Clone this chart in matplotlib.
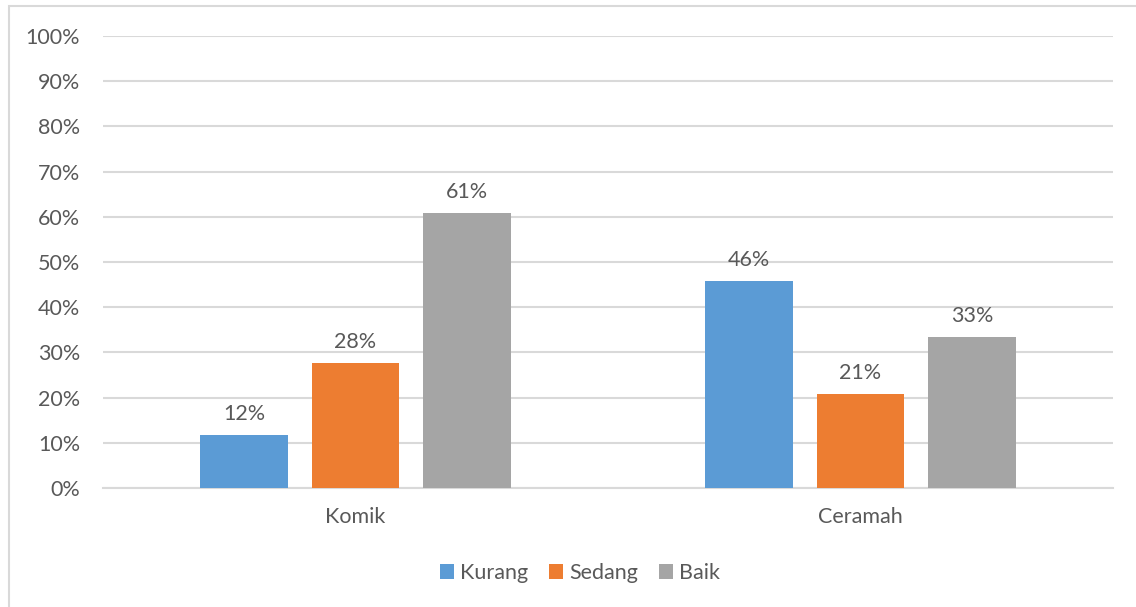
import numpy as np
import matplotlib.pyplot as plt
from matplotlib.patches import Rectangle

plt.rcParams['font.family'] = ['Lato', 'DejaVu Sans']

kategori = ["Komik", "Ceramah"]
seri = ["Kurang", "Sedang", "Baik"]
nilai = {
    "Kurang": [11.7, 45.8],
    "Sedang": [27.6, 20.8],
    "Baik": [60.8, 33.3],
}
warna = {"Kurang": "#5b9bd5", "Sedang": "#ed7d31", "Baik": "#a5a5a5"}
teks = "#595959"
garis = "#d9d9d9"
fs = 15.5

fig = plt.figure(figsize=(11.36, 6.07), dpi=100)
# bingkai luar chart
fig.patches.append(Rectangle((9 / 1136, -0.1), 1.2, 1 - 6 / 607 + 0.1,
                             transform=fig.transFigure, fill=False,
                             edgecolor=garis, linewidth=1.5))
ax = fig.add_axes([103 / 1136, 1 - 488 / 607, 1010 / 1136, 452 / 607])

x = np.arange(len(kategori))
lebar = 0.174
jarak = 0.221
for i, s in enumerate(seri):
    pos = x + (i - 1) * jarak
    bars = ax.bar(pos, nilai[s], lebar, color=warna[s], label=s, zorder=3)
    for b, v in zip(bars, nilai[s]):
        ax.annotate(f"{v:.0f}%", (b.get_x() + b.get_width() / 2, v),
                    xytext=(0, 8), textcoords="offset points",
                    ha="center", va="bottom", fontsize=fs, color=teks)

ax.set_xlim(-0.5, 1.5)
ax.set_ylim(0, 100)
ax.set_yticks(np.arange(0, 101, 10))
ax.set_yticklabels([f"{t}%" for t in range(0, 101, 10)])
ax.set_xticks(x)
ax.set_xticklabels(kategori)
ax.grid(axis="y", color=garis, linewidth=1.5, zorder=0)
for sp in ["top", "right", "left"]:
    ax.spines[sp].set_visible(False)
ax.spines["bottom"].set_color(garis)
ax.spines["bottom"].set_linewidth(1.5)
ax.tick_params(axis="both", length=0, labelsize=fs, labelcolor=teks)
ax.tick_params(axis="y", pad=16.5)
ax.tick_params(axis="x", pad=14)

ax.legend(loc="center", bbox_to_anchor=(580 / 1136, 1 - 573 / 607),
          bbox_transform=fig.transFigure, ncol=3, frameon=False,
          fontsize=fs, labelcolor=teks, handlelength=0.65, handleheight=0.65,
          handletextpad=0.3, columnspacing=0.95)

fig.savefig("out.png", dpi=100)
